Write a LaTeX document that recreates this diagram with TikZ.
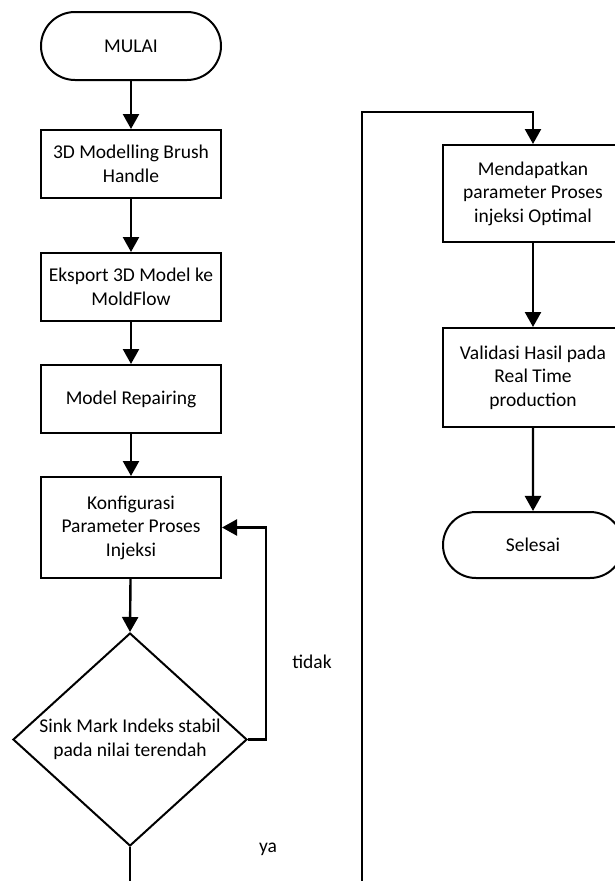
\documentclass[tikz,border=0pt]{standalone}
\usepackage{fontspec}
\setmainfont{Carlito}
\usetikzlibrary{shapes.misc,shapes.geometric,arrows.meta}
\begin{document}
\begin{tikzpicture}[x=1pt,y=-1pt,
  every node/.style={font=\fontsize{19.5}{23.5}\selectfont, align=center, inner sep=0pt},
  proc/.style={draw, line width=2pt, minimum width=180pt, rectangle},
  term/.style={draw, line width=2pt, rounded rectangle, minimum width=180pt, minimum height=68pt},
  arr/.style={line width=2.4pt, -{Triangle[width=16pt,length=15pt]}},
  ln/.style={line width=2.4pt}]
\useasboundingbox (0,0) rectangle (614,881);
\fill[white] (0,0) rectangle (614,881);
% left column
\node[term] (start) at (131,46) {MULAI};
\node[proc, minimum height=68pt] (b1) at (131,164) {3D Modelling Brush\\Handle};
\node[proc, minimum height=68pt] (b2) at (131,287) {Eksport 3D Model ke\\MoldFlow};
\node[proc, minimum height=68pt] (b3) at (131,399) {Model Repairing};
\node[proc, minimum height=101pt] (b4) at (131,527.5) {Konfigurasi\\Parameter Proses\\Injeksi};
\node[draw, line width=2pt, diamond, minimum width=234pt, minimum height=213pt] (d) at (130,739.5) {};
\node (dtext) at (d.center) {Sink Mark Indeks stabil\\pada nilai terendah};
\node (tidak) at (312,662) {tidak};
\node (ya) at (268,849) {ya};
% right column
\node[proc, minimum height=97pt] (r1) at (533,193.5) {Mendapatkan\\parameter Proses\\injeksi Optimal};
\node[proc, minimum height=99pt] (r2) at (533,377.5) {Validasi Hasil pada\\Real Time\\production};
\node[term, minimum height=66pt] (stop) at (533,545) {Selesai};
% free ends
\coordinate (botL) at (130,881);
\coordinate (botR) at (362,881);
\coordinate (topR) at (362,112);
\coordinate (fb) at (266,739.5);
% connectors
\draw[arr] (start) -- (b1);
\draw[arr] (b1) -- (b2);
\draw[arr] (b2) -- (b3);
\draw[arr] (b3) -- (b4);
\draw[arr] (b4) -- (d.north);
\draw[arr] (d.east) -- (fb) |- (b4.east);
\draw[ln] (d.south) -- (botL);
\draw[arr] (botR) -- (topR) -| (r1.north);
\draw[arr] (r1) -- (r2);
\draw[arr] (r2) -- (stop);
\end{tikzpicture}
\end{document}
